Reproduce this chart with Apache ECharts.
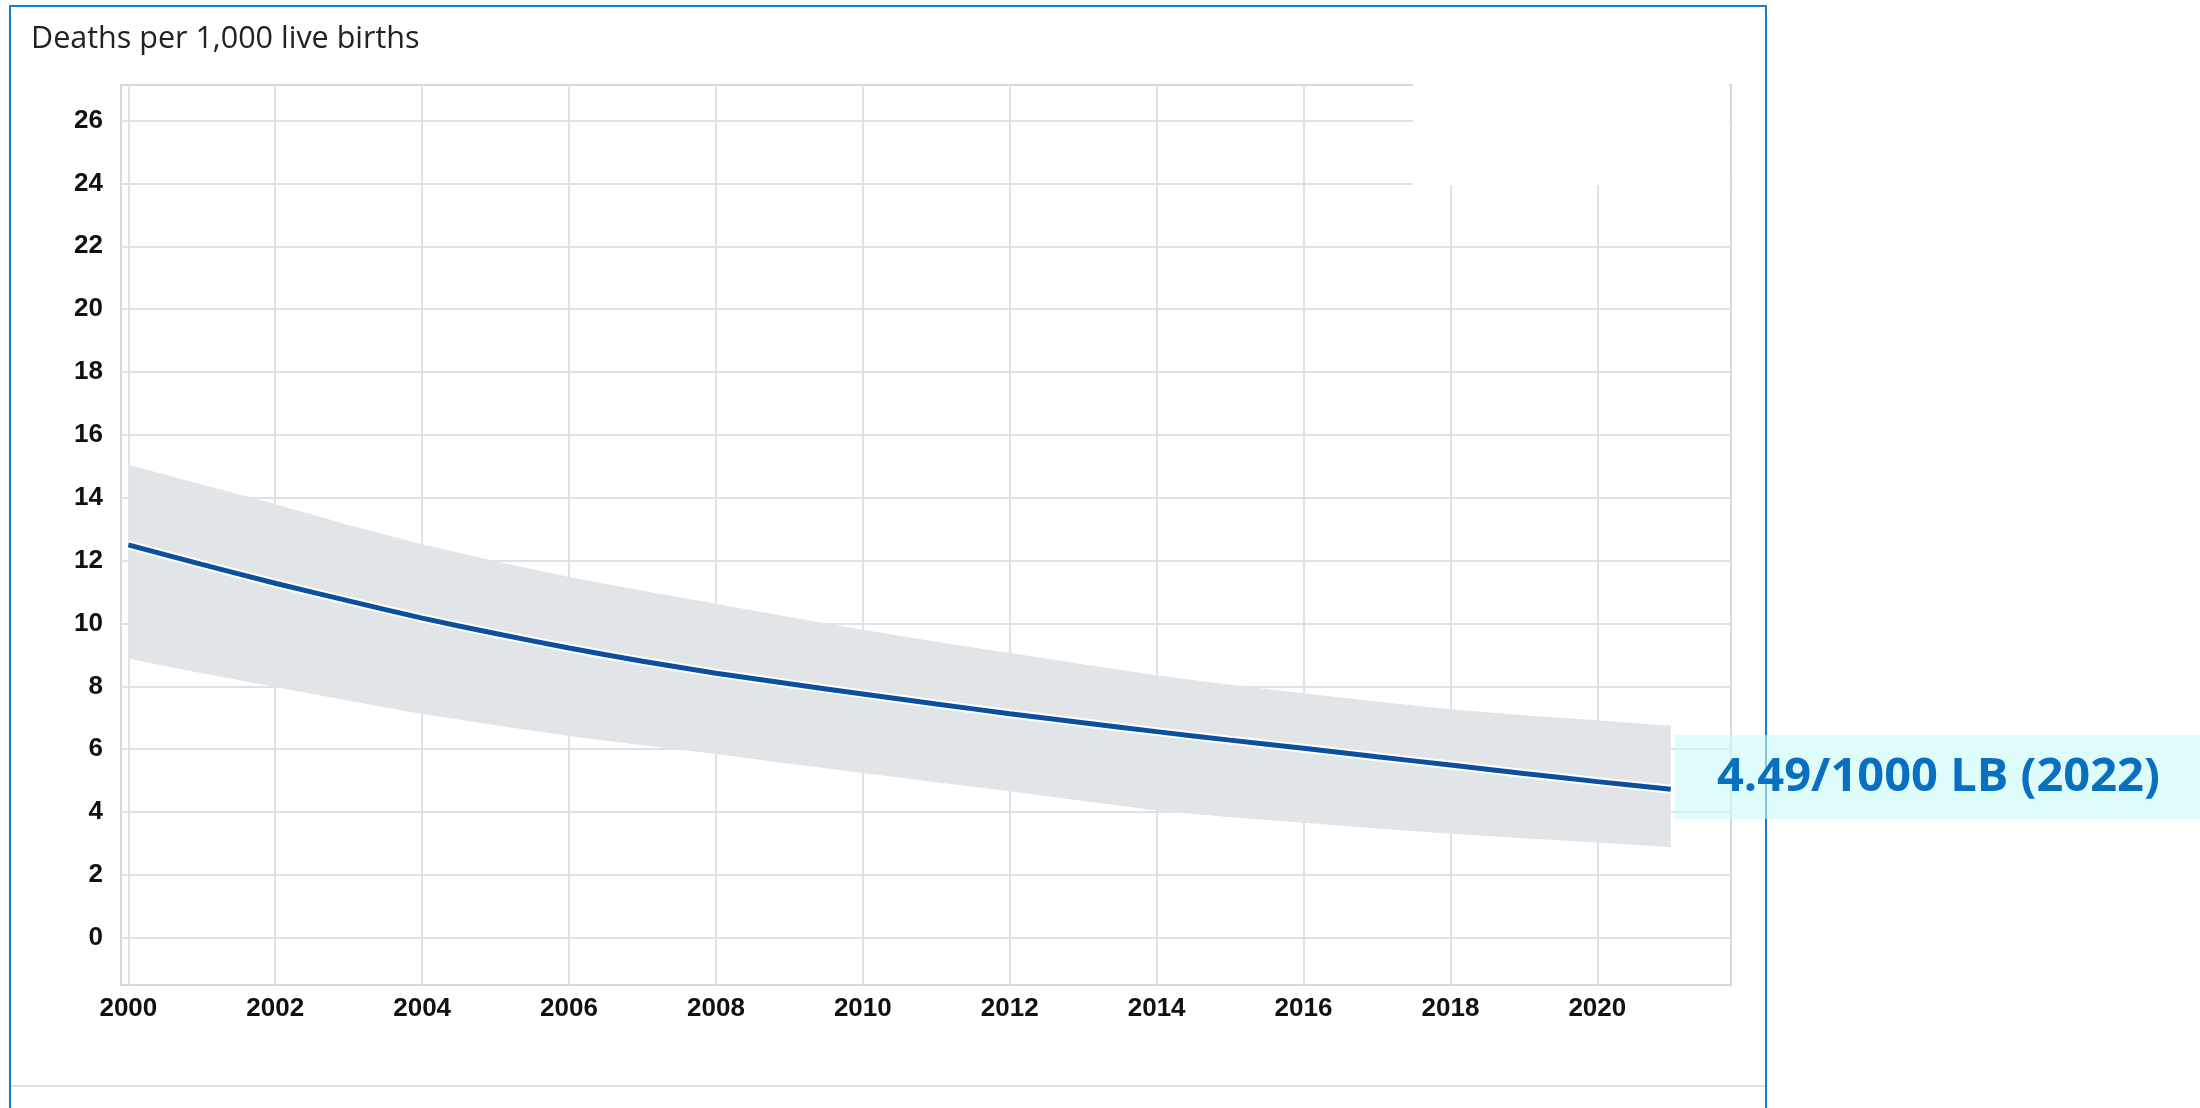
<!DOCTYPE html>
<html>
<head>
<meta charset="utf-8">
<script src="https://cdn.jsdelivr.net/npm/echarts@6/dist/echarts.min.js"></script>
<style>
html,body{margin:0;padding:0;background:#fff;}
#chart{width:2200px;height:1108px;}
</style>
</head>
<body>
<div id="chart"></div>
<script>
const years   = [2000,2001,2002,2003,2004,2005,2006,2007,2008,2009,2010,2011,2012,2013,2014,2015,2016,2017,2018,2019,2020,2021];
const central = [12.50,11.88,11.28,10.72,10.17,9.68,9.22,8.80,8.42,8.08,7.76,7.44,7.13,6.84,6.56,6.29,6.03,5.76,5.50,5.23,4.97,4.73];
const upper   = [15.05,14.42,13.80,13.13,12.52,11.98,11.48,11.04,10.63,10.21,9.80,9.42,9.06,8.70,8.35,8.05,7.78,7.52,7.27,7.08,6.92,6.75];
const lower   = [8.88,8.42,7.98,7.54,7.12,6.76,6.42,6.13,5.85,5.54,5.24,4.95,4.66,4.35,4.05,3.84,3.66,3.48,3.31,3.17,3.03,2.88];
const xTicks  = [2000,2002,2004,2006,2008,2010,2012,2014,2016,2018,2020];
const yTicks  = [0,2,4,6,8,10,12,14,16,18,20,22,24,26];
const titleText = 'Deaths per 1,000 live births';
const latestValue = 4.49;
const latestYear = 2022;

const chart = echarts.init(document.getElementById('chart'));
const gridColor = '#dfe2e5';
const labelStyle = {fontFamily:'Liberation Sans', fontWeight:'bold', fontSize:26, color:'#111'};

chart.setOption({
  animation:false,
  grid:{left:121, right:469, top:85, bottom:123, show:true, borderColor:'#d6d9dc', borderWidth:2, backgroundColor:'transparent'},
  xAxis:{
    type:'value', min:1999.9, max:2021.82,
    axisLine:{show:false},
    axisTick:{show:false, customValues:xTicks},
    axisLabel:Object.assign({customValues:xTicks, margin:11, formatter:v=>String(v)}, labelStyle),
    splitLine:{show:true, lineStyle:{color:gridColor, width:2}}
  },
  yAxis:{
    type:'value', min:-1.5, max:27.13,
    axisLine:{show:false},
    axisTick:{show:false, customValues:yTicks},
    axisLabel:Object.assign({customValues:yTicks, margin:18}, labelStyle),
    splitLine:{show:true, lineStyle:{color:gridColor, width:2}}
  },
  series:[
    {type:'custom', silent:true, clip:true,
     data:years.map((y,i)=>[y, lower[i], upper[i]]),
     encode:{x:0, y:[1,2]},
     renderItem:function(params, api){
       if (params.dataIndex !== 0) return null;
       const pts = [];
       for (let i = 0; i < years.length; i++) pts.push(api.coord([years[i], upper[i]]));
       for (let i = years.length - 1; i >= 0; i--) pts.push(api.coord([years[i], lower[i]]));
       return {type:'polygon', shape:{points:pts}, style:{fill:'#e1e5e8'}};
     }},
    {type:'line', symbol:'none', smooth:0.2, silent:true,
     data:years.map((y,i)=>[y, central[i]]), lineStyle:{color:'#ffffff', width:9}},
    {type:'line', symbol:'none', smooth:0.2, silent:true,
     data:years.map((y,i)=>[y, central[i]]), lineStyle:{color:'#0d4f9f', width:5}}
  ],
  graphic:[
    {type:'rect', z:1, shape:{x:10, y:6, width:1756, height:1200}, style:{fill:'none', stroke:'#1b7cd4', lineWidth:2}},
    {type:'line', z:1, shape:{x1:11, y1:1086, x2:1765, y2:1086}, style:{stroke:'#dde0e3', lineWidth:2}},
    {type:'text', z:5, x:31, y:39, style:{text:titleText, fontFamily:'Open Sans', fontSize:30.5, fill:'#222', textVerticalAlign:'middle'}},
    {type:'rect', z:10, shape:{x:1413, y:78, width:316, height:107}, style:{fill:'#ffffff'}},
    {type:'rect', z:20, shape:{x:1675, y:735, width:525, height:84}, style:{fill:'rgba(200,250,245,0.6)'}},
    {type:'text', z:21, x:1717, y:778, style:{text:latestValue + '/1000 LB (' + latestYear + ')', fontFamily:'Open Sans', fontWeight:'bold', fontSize:47, fill:'#0a6fc0', textVerticalAlign:'middle'}}
  ]
});
</script>
</body>
</html>
